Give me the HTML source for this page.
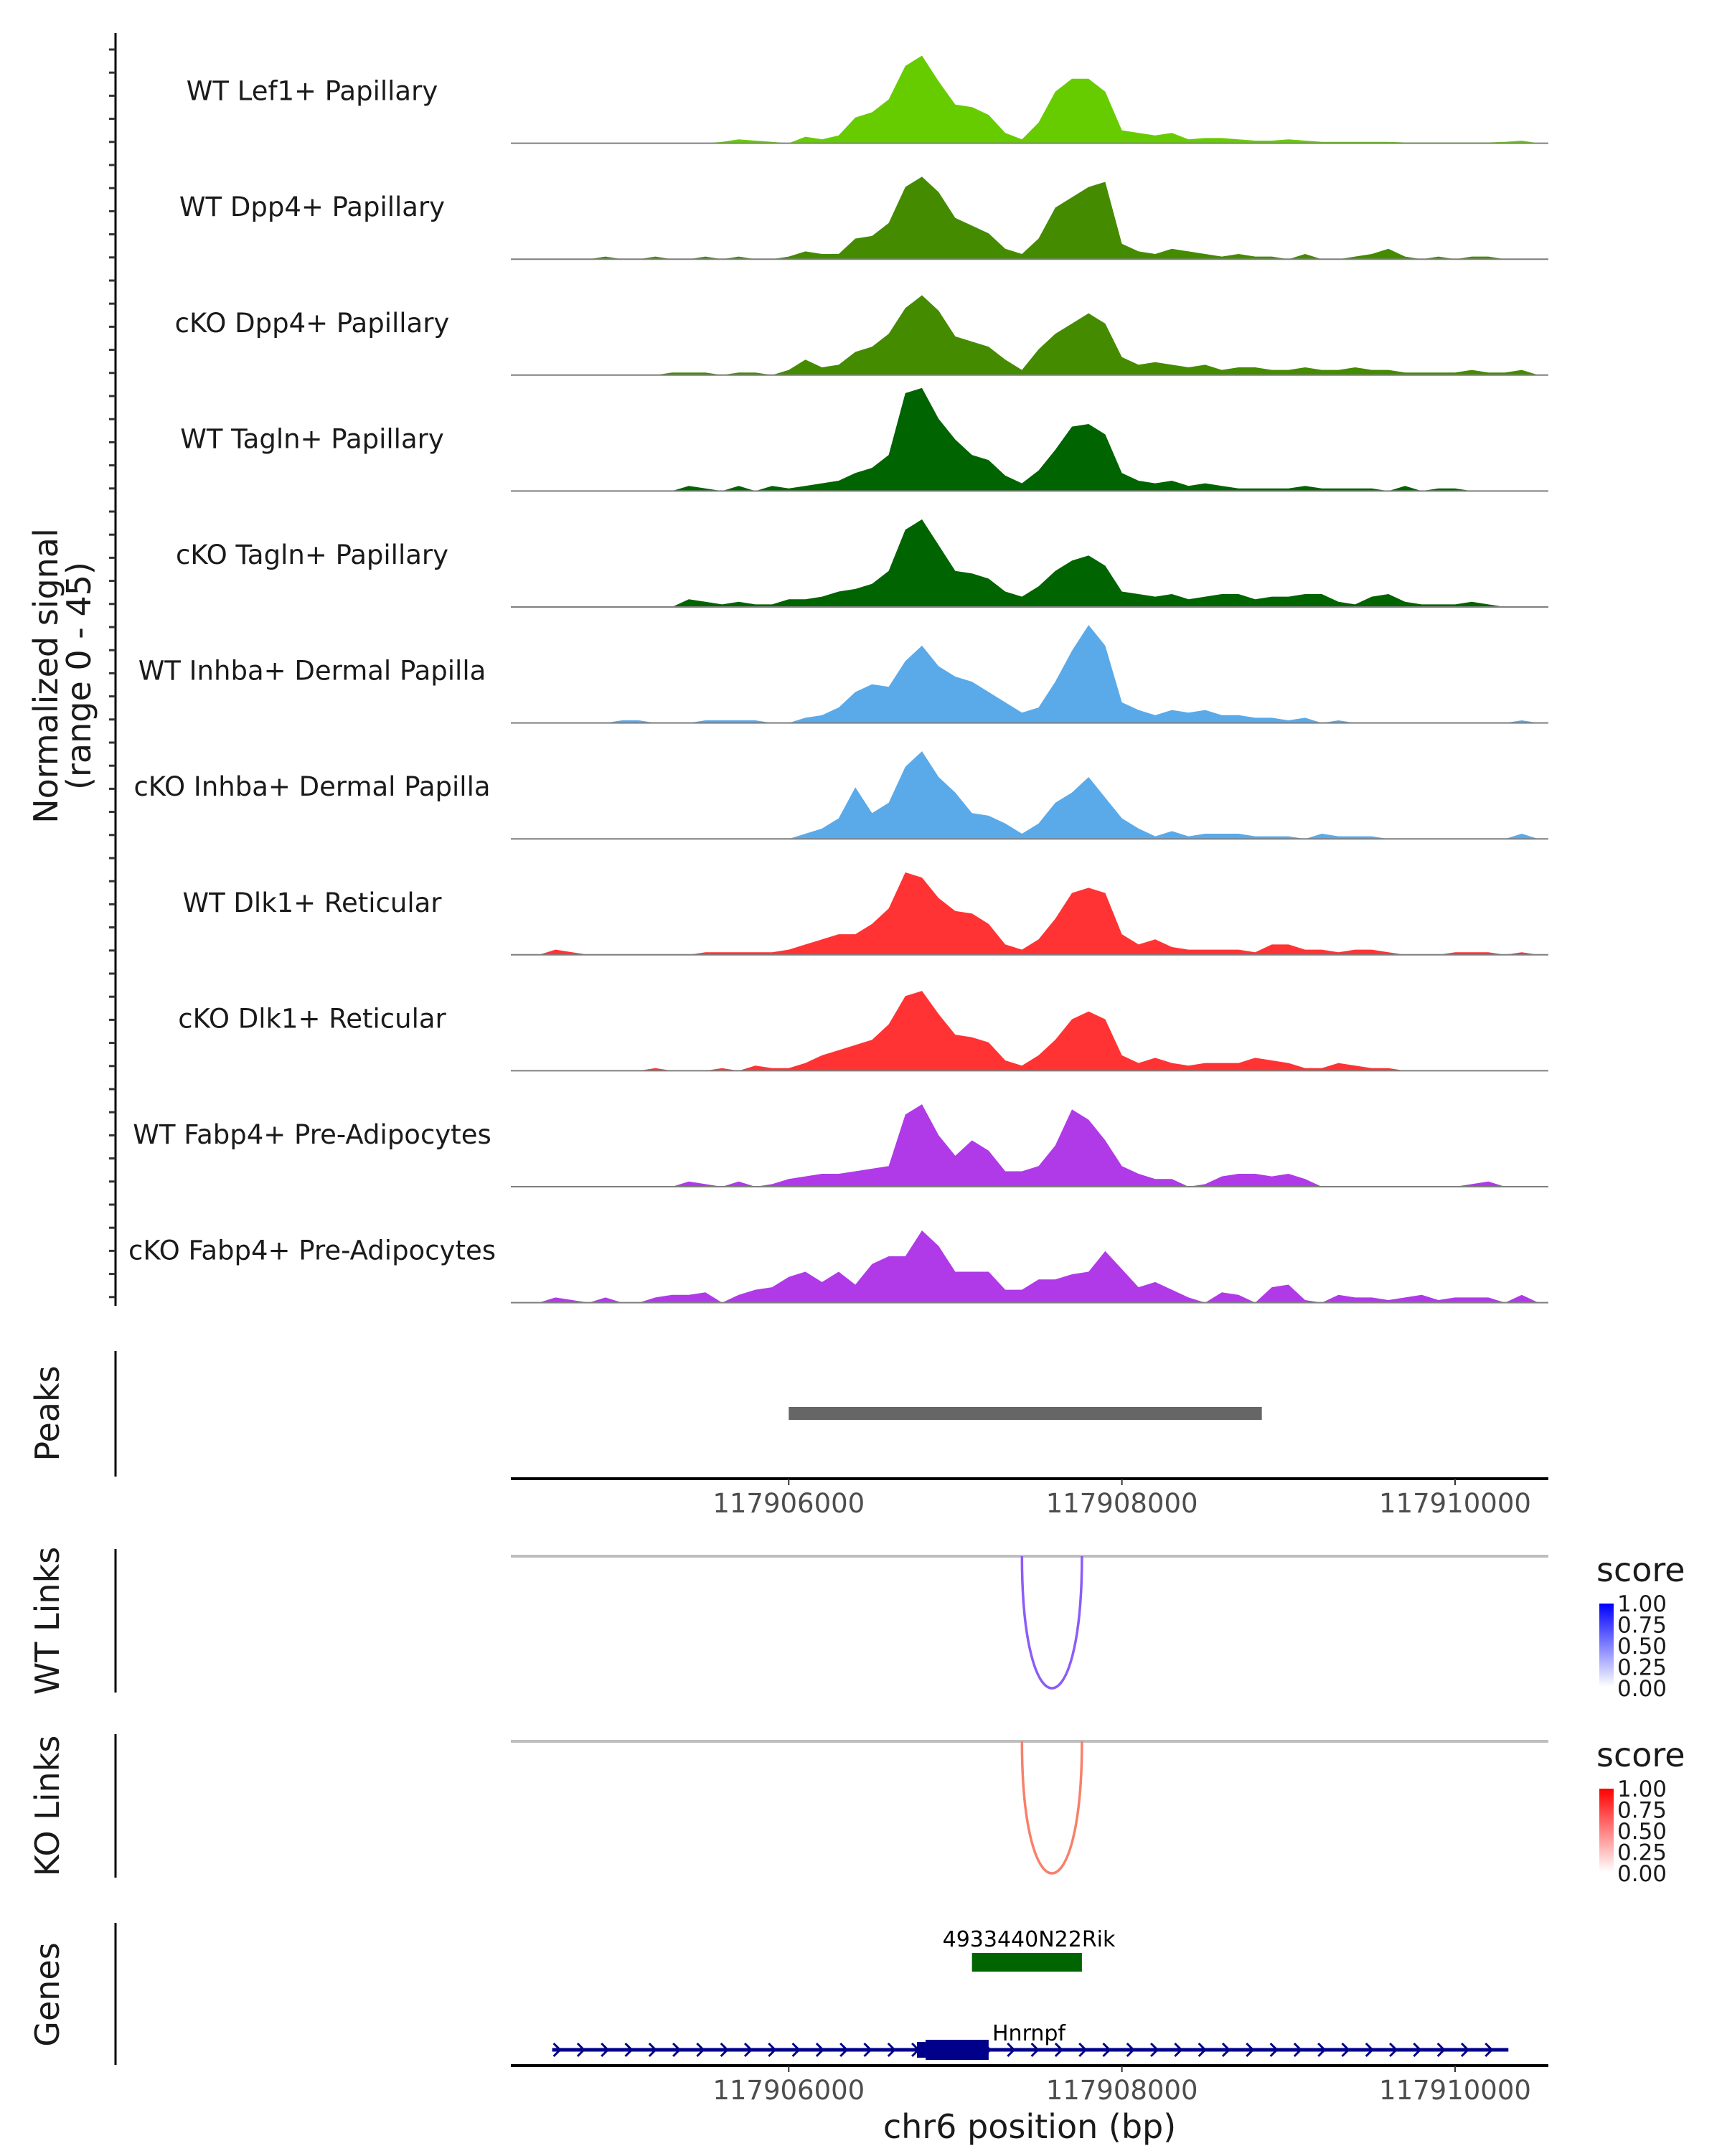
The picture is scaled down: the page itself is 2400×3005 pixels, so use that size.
<!DOCTYPE html>
<html><head><meta charset="utf-8"><style>
html,body{margin:0;padding:0;background:#fff;}
svg text{font-family:"DejaVu Sans","Liberation Sans",sans-serif;}
</style></head><body>
<svg id="chart" xmlns="http://www.w3.org/2000/svg" width="2400" height="3000" viewBox="0 0 2400 3000">
<rect width="2400" height="3000" fill="#fff"/>
<g id="tracks"></g>
<g id="lower"></g>
</svg>
<script>
const trackNames = ["WT Lef1+ Papillary","WT Dpp4+ Papillary","cKO Dpp4+ Papillary","WT Tagln+ Papillary","cKO Tagln+ Papillary","WT Inhba+ Dermal Papilla","cKO Inhba+ Dermal Papilla","WT Dlk1+ Reticular","cKO Dlk1+ Reticular","WT Fabp4+ Pre-Adipocytes","cKO Fabp4+ Pre-Adipocytes"];
const trackColors = ["#66cc00","#448b00","#448b00","#006400","#006400","#5aaaea","#5aaaea","#ff3333","#ff3333","#b03ae8","#b03ae8"];
const binStart = 117904350;
const binSize = 100;
const lef1 = [0,0,0,0,0,0,0,0,0,0,0,0,0.5,1.5,1,0.5,0,2.5,1.5,3,10,12,17,30,34,24,15,14,11,4,1.5,8,20,25,25,20,5,4,3,4,1.5,2,2,1.5,1,1,1.5,1,0.5,0.5,0.5,0.5,0.5,0.3,0.3,0.3,0.3,0.3,0.3,0.5,1,0];
const dpp4 = [0,0,0,0,0,1,0,0,1,0,0,1,0,1,0,0,1,3,2,2,8,9,14,28,32,26,16,13,10,4,2,8,20,24,28,30,6,3,2,4,3,2,1,2,1,1,0,2,0,0,1,2,4,1,0,1,0,1,1,0,0,0];
const ckoDpp4 = [0,0,0,0,0,0,0,0,0,1,1,1,0,1,1,0,2,6,3,4,9,11,16,26,31,25,15,13,11,6,2,10,16,20,24,20,7,4,5,4,3,4,2,3,3,2,2,3,2,2,3,2,2,1,1,1,1,2,1,1,2,0];
const tagln = [0,0,0,0,0,0,0,0,0,0,2,1,0,2,0,2,1,2,3,4,7,9,14,38,40,28,20,14,12,6,3,8,16,25,26,22,7,4,3,4,2,3,2,1,1,1,1,2,1,1,1,1,0,2,0,1,1,0,0,0,0,0];
const ckoTagln = [0,0,0,0,0,0,0,0,0,0,3,2,1,2,1,1,3,3,4,6,7,9,14,30,34,24,14,13,11,6,4,8,14,18,20,16,6,5,4,5,3,4,5,5,3,4,4,5,5,2,1,4,5,2,1,1,1,2,1,0,0,0];
const inhba = [0,0,0,0,0,0,1,1,0,0,0,1,1,1,1,0,0,2,3,6,12,15,14,24,30,22,18,16,12,8,4,6,16,28,38,30,8,5,3,5,4,5,3,3,2,2,1,2,0,1,0,0,0,0,0,0,0,0,0,0,1,0];
const ckoInhba = [0,0,0,0,0,0,0,0,0,0,0,0,0,0,0,0,0,2,4,8,20,10,14,28,34,24,18,10,9,6,2,6,14,18,24,16,8,4,1,3,1,2,2,2,1,1,1,0,2,1,1,1,0,0,0,0,0,0,0,0,2,0];
const dlk1 = [0,0,2,1,0,0,0,0,0,0,0,1,1,1,1,1,2,4,6,8,8,12,18,32,30,22,17,16,12,4,2,6,14,24,26,24,8,4,6,3,2,2,2,2,1,4,4,2,2,1,2,2,1,0,0,0,1,1,1,0,1,0];
const ckoDlk1 = [0,0,0,0,0,0,0,0,1,0,0,0,1,0,2,1,1,3,6,8,10,12,18,29,31,22,14,13,11,4,2,6,12,20,23,20,6,3,5,3,2,3,3,3,5,4,3,1,1,3,2,1,1,0,0,0,0,0,0,0,0,0];
const fabp4 = [0,0,0,0,0,0,0,0,0,0,2,1,0,2,0,1,3,4,5,5,6,7,8,28,32,20,12,18,14,6,6,8,16,30,26,18,8,5,3,3,0,1,4,5,5,4,5,3,0,0,0,0,0,0,0,0,0,1,2,0,0,0];
const ckoFabp4 = [0,0,2,1,0,2,0,0,2,3,3,4,0,3,5,6,10,12,8,12,7,15,18,18,28,22,12,12,12,5,5,9,9,11,12,20,13,6,8,5,2,0,4,3,0,6,7,1,0,3,2,2,1,2,3,1,2,2,2,0,3,0];
const xTicks = [117906000,117908000,117910000];
const peakStarts = [117906000];
const peakEnds = [117908840];
const wtLinkStart = [117907400], wtLinkEnd = [117907760], wtLinkScore = [0.6];
const koLinkStart = [117907400], koLinkEnd = [117907760], koLinkScore = [0.6];
const legendTicks = ["1.00","0.75","0.50","0.25","0.00"];
const geneNames = ["4933440N22Rik","Hnrnpf"];
const geneStarts = [117907100,117904580];
const geneEnds = [117907760,117910320];
const exonStarts = [117906770];
const exonEnds = [117907200];

const NS="http://www.w3.org/2000/svg";
const tg=document.getElementById('tracks');
const lg=document.getElementById('lower');
const X0=712,X1=2158,BP0=117904332,BP1=117910560;
function xs(bp){return X0+(bp-BP0)/(BP1-BP0)*(X1-X0);}
const trackTop=38, trackH=161.6, yMax=45;
function el(tag,attrs,parent){const e=document.createElementNS(NS,tag);for(const k in attrs)e.setAttribute(k,attrs[k]);parent.appendChild(e);return e;}
const series=[lef1,dpp4,ckoDpp4,tagln,ckoTagln,inhba,ckoInhba,dlk1,ckoDlk1,fabp4,ckoFabp4];
series.forEach((vals,t)=>{
  const base=trackTop+trackH*(t+1);
  const ys=v=>base-v/yMax*trackH;
  let d=`M${xs(binStart).toFixed(1)},${base}`;
  vals.forEach((v,i)=>{const c=xs(binStart+(i+0.5)*binSize);d+=`L${c.toFixed(1)},${ys(v).toFixed(1)}`;});
  d+=`L${xs(binStart+vals.length*binSize).toFixed(1)},${base}Z`;
  const p=el('path',{d:d,fill:trackColors[t]},tg);
  
  
  const bl=el('line',{x1:X0,x2:X1,y1:base,y2:base,stroke:'#7f7f7f','stroke-width':2},tg);
  
  
  const tx=el('text',{x:435,y:base-60,'text-anchor':'middle','font-size':37,fill:'#1a1a1a'},tg);
  tx.textContent=trackNames[t];
  
  
});
const ax=el('line',{x1:161,x2:161,y1:46,y2:1820,stroke:'#000','stroke-width':3},tg);


for(let y=69;y<1818;y+=32.2){const tk=el('line',{x1:152,x2:161,y1:y,y2:y,stroke:'#333','stroke-width':3},tg);
  
  }
const yt=el('text',{transform:'translate(80,942) rotate(-90)','text-anchor':'middle','font-size':46,fill:'#1a1a1a'},tg);


yt.innerHTML='<tspan x="0" dy="0">Normalized signal</tspan><tspan x="0" dy="46">(range 0 - 45)</tspan>';

function vLabel(txt,cy,name,y1,y2){
  const t=el('text',{transform:`translate(82,${cy}) rotate(-90)`,'text-anchor':'middle','font-size':46,fill:'#1a1a1a'},lg);t.textContent=txt;
  
  
  const l=el('line',{x1:161,x2:161,y1:y1,y2:y2,stroke:'#000','stroke-width':3},lg);
  
  
}
function xAxis(y,name){
  const l=el('line',{x1:X0,x2:X1,y1:y,y2:y,stroke:'#000','stroke-width':4},lg);
  
  
  xTicks.forEach(v=>{
    const tk=el('line',{x1:xs(v),x2:xs(v),y1:y,y2:y+9,stroke:'#333','stroke-width':2},lg);
    
    
    const t=el('text',{x:xs(v),y:y+47,'text-anchor':'middle','font-size':37,fill:'#4d4d4d'},lg);t.textContent=v;
    
    
  });
}
vLabel('Peaks',1970,'peaks',1883,2058);
peakStarts.forEach((s,i)=>{const r=el('rect',{x:xs(s),y:1961,width:xs(peakEnds[i])-xs(s),height:18,fill:'#666'},lg);
  
  });
xAxis(2061,'peaks-x-axis');
function links(top,starts,ends,scores,color,legTop,gradId,gc,name){
  vLabel(name==='wt'?'WT Links':'KO Links',top+90,name+'-links',top-10,top+190);
  const g=el('line',{x1:X0,x2:X1,y1:top,y2:top,stroke:'#bebebe','stroke-width':4},lg);
  
  
  starts.forEach((s,i)=>{const a=xs(s),b=xs(ends[i]);const d=184*scores[i]/0.6;const c=top+d*4/3;
    const p=el('path',{d:`M${a},${top} C${a},${c} ${b},${c} ${b},${top}`,fill:'none',stroke:color,'stroke-width':3.5},lg);
    
    });
  const defs=el('defs',{},lg);const lgd=el('linearGradient',{id:gradId,x1:0,y1:0,x2:0,y2:1},defs);
  el('stop',{offset:0,'stop-color':gc},lgd);el('stop',{offset:1,'stop-color':'#fff'},lgd);
  const st=el('text',{x:2225,y:legTop,'font-size':46,fill:'#1a1a1a'},lg);st.textContent='score';
  
  
  const bar=el('rect',{x:2229,y:legTop+31,width:20,height:116,fill:`url(#${gradId})`},lg);
  
  
  legendTicks.forEach((t,i)=>{const yy=legTop+31+i*29.5;
    const tx=el('text',{x:2254,y:yy+11,'font-size':31,fill:'#1a1a1a'},lg);tx.textContent=t;
    
    });
}
links(2169,wtLinkStart,wtLinkEnd,wtLinkScore,'#8c5cf8',2204,'gb','#0000ff','wt');
links(2427,koLinkStart,koLinkEnd,koLinkScore,'#f8806a',2462,'gr','#ff0000','ko');
vLabel('Genes',2780,'genes',2680,2878);
const g1=el('rect',{x:xs(geneStarts[0]),y:2722,width:xs(geneEnds[0])-xs(geneStarts[0]),height:26,fill:'#006400'},lg);


const gl1=el('text',{x:1434,y:2713,'text-anchor':'middle','font-size':30,fill:'#000'},lg);gl1.textContent=geneNames[0];


const hy=2857;
const hl=el('line',{x1:xs(geneStarts[1]),x2:xs(geneEnds[1]),y1:hy,y2:hy,stroke:'#00008b','stroke-width':5},lg);


for(let x=xs(geneStarts[1])+2;x<xs(geneEnds[1]);x+=33.3){
  const c=el('path',{d:`M${x},${hy-9} L${x+9},${hy} L${x},${hy+9}`,fill:'none',stroke:'#00008b','stroke-width':3},lg);
  
  
}
exonStarts.forEach((s,i)=>{
  const r1=el('rect',{x:xs(s),y:2846,width:12,height:22,fill:'#00008b'},lg);
  
  
  const r2=el('rect',{x:xs(s)+12,y:2843,width:xs(exonEnds[i])-xs(s)-12,height:28,fill:'#00008b'},lg);
  
  
});
const gl2=el('text',{x:1434,y:2844,'text-anchor':'middle','font-size':30,fill:'#000'},lg);gl2.textContent=geneNames[1];


xAxis(2879,'genes-x-axis');
const xt=el('text',{x:1435,y:2980,'text-anchor':'middle','font-size':46,fill:'#1a1a1a'},lg);xt.textContent='chr6 position (bp)';


</script>
</body></html>
